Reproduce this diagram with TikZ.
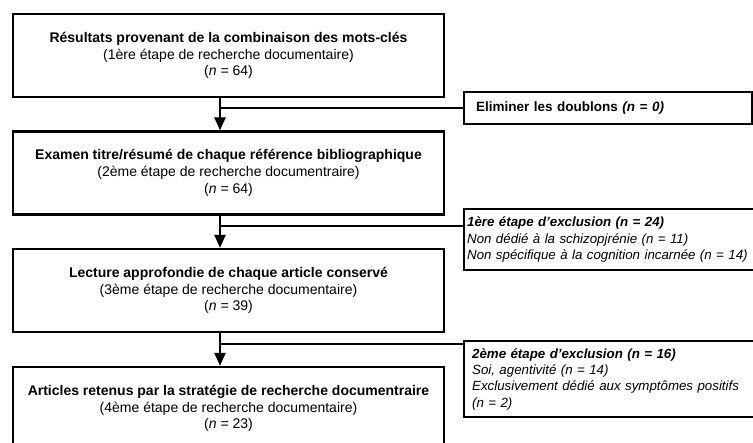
\documentclass[tikz,border=0pt]{standalone}
\usepackage{fontspec}
\setmainfont{Liberation Sans}
\usetikzlibrary{arrows.meta}

\tikzset{
  stage/.style={draw,line width=2.3pt,minimum width=431pt,minimum height=83pt,align=center,inner sep=0pt,font=\fontsize{14}{16.7}\selectfont},
  excl/.style={draw,line width=2.3pt,anchor=north west,align=left,inner ysep=0pt,font=\fontsize{13.3}{16.4}\selectfont\itshape},
  flow/.style={line width=2.2pt,-{Triangle[width=11pt,length=13pt]}},
  branch/.style={line width=1.9pt}
}

\begin{document}
\begin{tikzpicture}[x=1pt,y=1pt]
\useasboundingbox (0,0) rectangle (753,-443);
\clip (0,0) rectangle (753,-443);
\node[stage] (b1) at (228.5,-55.5){\textbf{Résultats provenant de la combinaison des mots-clés}\\(1ère étape de recherche documentaire)\\(\textit{n} = 64)};
\node[stage] (b2) at (228.5,-173){\textbf{Examen titre/résumé de chaque référence bibliographique}\\(2ème étape de recherche documentraire)\\(\textit{n} = 64)};
\node[stage] (b3) at (228.5,-290.5){\textbf{Lecture approfondie de chaque article conservé}\\(3ème étape de recherche documentaire)\\(\textit{n} = 39)};
\node[stage] (b4) at (228.5,-408.5){\textbf{Articles retenus par la stratégie de recherche documentraire}\\(4ème étape de recherche documentaire)\\(\textit{n} = 23)};
\node[excl,inner xsep=12pt,text width=264pt,minimum height=32pt,font=\fontsize{13.5}{16.4}\selectfont] (e0) at (463,-91){\textbf{Eliminer les doublons \itshape(n = 0)}};
\node[excl,inner xsep=3pt,text width=320pt,minimum height=61pt] (e1) at (463,-208){\textbf{1ère étape d’exclusion (n = 24)}\\Non dédié à la schizopjrénie (n = 11)\\Non spécifique à la cognition incarnée (n = 14)};
\node[excl,inner xsep=8pt,text width=300pt,minimum height=76pt] (e2) at (463,-340){\textbf{2ème étape d’exclusion (n = 16)}\\Soi, agentivité (n = 14)\\Exclusivement dédié aux symptômes positifs\\(n = 2)};
\draw[flow] ([xshift=-8.5pt]b1.south) -- ([xshift=-8.5pt]b2.north);
\draw[flow] ([xshift=-8.5pt]b2.south) -- ([xshift=-8.5pt]b3.north);
\draw[flow] ([xshift=-8.5pt]b3.south) -- ([xshift=-8.5pt]b4.north);
\coordinate (j1) at ([xshift=-8.5pt]b1.south |- e0.west);
\coordinate (j2) at (220,-226);
\coordinate (j3) at (220,-344);
\draw[branch] (j1) -- (e0.west);
\draw[branch] (j2) -- (j2 -| e1.west);
\draw[branch] (j3) -- (j3 -| e2.west);
\end{tikzpicture}
\end{document}
